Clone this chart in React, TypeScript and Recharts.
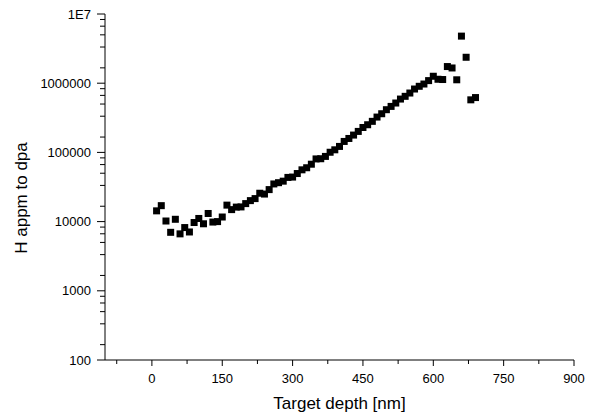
import { ScatterChart, Scatter, XAxis, YAxis } from 'recharts';

// Target depth [nm]
const depths = [
  10, 20, 30, 40, 50, 60, 70, 80, 90, 100,
  110, 120, 130, 140, 150, 160, 170, 180, 190, 200,
  210, 220, 230, 240, 250, 260, 270, 280, 290, 300,
  310, 320, 330, 340, 350, 360, 370, 380, 390, 400,
  410, 420, 430, 440, 450, 460, 470, 480, 490, 500,
  510, 520, 530, 540, 550, 560, 570, 580, 590, 600,
  610, 620, 630, 640, 650, 660, 670, 680, 690,
];

// H appm to dpa
const ratios = [
  14300, 17000, 10200, 7000, 10800, 6650, 8200, 7080, 9700, 11100,
  9300, 13100, 9850, 10000, 11650, 17300, 14900, 16200, 16300, 18200,
  20100, 21500, 25700, 25000, 29000, 35000, 36500, 38400, 43500, 44000,
  49500, 56000, 60000, 67500, 80500, 81000, 87500, 100500, 109000, 122000,
  144000, 159000, 178000, 201000, 229000, 251000, 281000, 324000, 362000, 414000,
  462000, 517000, 590000, 646000, 721000, 824000, 902000, 973000, 1090000, 1260000,
  1140000, 1130000, 1740000, 1660000, 1120000, 4790000, 2370000, 575000, 620000,
];

const xMajorTicks = [0, 150, 300, 450, 600, 750, 900];
const xMinorTicks = [-75, 75, 225, 375, 525, 675, 825];
const yMajorTicks = [100, 1000, 10000, 100000, 1000000, 10000000];
// minor ticks sit at 1/6 .. 5/6 of each decade top
const yMinorSteps = [1, 2, 3, 4, 5];

const yMinorTicks = yMajorTicks.slice(1).flatMap((top) => yMinorSteps.map((k) => (top * k) / 6));

const data = depths.map((d, i) => ({ x: d, y: ratios[i] }));

const FONT = '"Liberation Sans", Arial, sans-serif';

function formatY(v: number): string {
  if (v === 10000000) return '1E7';
  return String(v);
}

function XTick({ x, y, payload }: any) {
  const major = xMajorTicks.includes(payload.value);
  return (
    <g>
      <line x1={x} y1={y} x2={x} y2={y + (major ? 6 : 4)} stroke="#000" strokeWidth={1} />
      {major && (
        <text x={x} y={y + 23} textAnchor="middle" fontSize={13} fontFamily={FONT} fill="#000">
          {payload.value}
        </text>
      )}
    </g>
  );
}

function YTick({ x, y, payload }: any) {
  const major = yMajorTicks.includes(payload.value);
  return (
    <g>
      <line x1={x - (major ? 8 : 5)} y1={y} x2={x} y2={y} stroke="#000" strokeWidth={1} />
      {major && (
        <text x={x - 14} y={y} dy="0.35em" textAnchor="end" fontSize={13} fontFamily={FONT} fill="#000">
          {formatY(payload.value)}
        </text>
      )}
    </g>
  );
}

function SquareDot({ cx, cy }: any) {
  return <rect x={cx - 3.5} y={cy - 3.5} width={7} height={7} fill="#000" />;
}

function YTitle({ viewBox }: any) {
  const cy = viewBox.y + viewBox.height / 2 + 11;
  return (
    <text
      x={27}
      y={cy}
      transform={`rotate(-90, 27, ${cy})`}
      textAnchor="middle"
      fontSize={17}
      fontFamily={FONT}
      fill="#000"
    >
      H appm to dpa
    </text>
  );
}

function XTitle({ viewBox }: any) {
  const cx = viewBox.x + viewBox.width / 2;
  return (
    <text x={cx} y={409} textAnchor="middle" fontSize={17} fontFamily={FONT} fill="#000">
      Target depth [nm]
    </text>
  );
}

export default function App() {
  return (
    <div style={{ position: 'absolute', left: 0, top: 0, width: 607, height: 418, background: '#fff' }}>
      <ScatterChart width={607} height={418} margin={{ top: 14, right: 33, left: 0, bottom: 0 }}>
        <XAxis
          type="number"
          dataKey="x"
          domain={[-100, 900]}
          ticks={[...xMinorTicks, ...xMajorTicks].sort((a, b) => a - b)}
          interval={0}
          tick={<XTick />}
          tickLine={false}
          tickSize={0}
          tickMargin={0}
          axisLine={{ stroke: '#000', strokeWidth: 1 }}
          height={58}
          label={<XTitle />}
        />
        <YAxis
          type="number"
          dataKey="y"
          scale="log"
          domain={[100, 10000000]}
          allowDataOverflow
          ticks={[...yMinorTicks, ...yMajorTicks].sort((a, b) => a - b)}
          interval={0}
          tick={<YTick />}
          tickLine={false}
          tickSize={0}
          tickMargin={0}
          axisLine={{ stroke: '#000', strokeWidth: 1 }}
          width={105}
          label={<YTitle />}
        />
        <Scatter data={data} fill="#000" shape={<SquareDot />} isAnimationActive={false} />
      </ScatterChart>
    </div>
  );
}
